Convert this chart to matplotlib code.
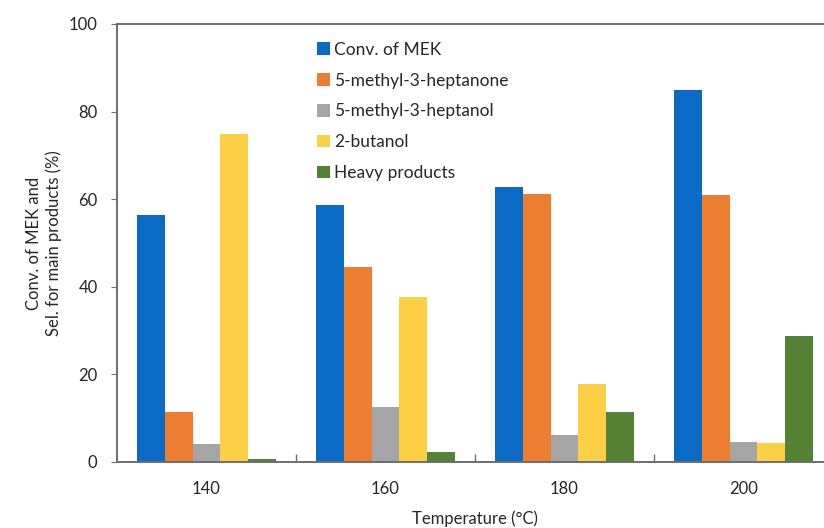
import numpy as np
import matplotlib
matplotlib.use('Agg')
import matplotlib.pyplot as plt
from matplotlib.ticker import FixedLocator, NullFormatter


TEMPS = ['140', '160', '180', '200']
SERIES = ['Conv. of MEK', '5-methyl-3-heptanone', '5-methyl-3-heptanol',
          '2-butanol', 'Heavy products']

conv_mek = [56.3, 58.7, 62.8, 85.0]
heptanone = [11.4, 44.6, 61.3, 61.0]
heptanol = [4.1, 12.6, 6.1, 4.5]
butanol = [75.0, 37.7, 17.8, 4.3]
heavy = [0.7, 2.3, 11.4, 28.7]

COLORS = ['#0A6BC7', '#ED7D31', '#A5A5A5', '#FDCF45', '#548235']
TEXT = '#262626'
AXIS = '#6E6E6E'

plt.rcParams['font.family'] = ['Lato', 'DejaVu Sans']

fig = plt.figure(figsize=(8.24, 5.28), dpi=100)
# axes runs slightly past the right edge, as in the cropped original
ax = fig.add_axes([117/824, 66/528, 716/824, 438/528])

x = np.arange(len(TEMPS))
width = 0.156
values = [conv_mek, heptanone, heptanol, butanol, heavy]
for i, (name, vals) in enumerate(zip(SERIES, values)):
    offset = (i - 2) * width
    ax.bar(x + offset, vals, width=width, color=COLORS[i], label=name,
           linewidth=0)

ax.set_xlim(-0.5, len(TEMPS) - 0.5)
ax.set_ylim(0, 100)
ax.set_yticks([0, 20, 40, 60, 80, 100])

ax.set_xticks(x)
ax.set_xticklabels(TEMPS)
ax.tick_params(axis='x', which='major', length=0, pad=14, labelsize=12,
               labelcolor=TEXT)
ax.xaxis.set_minor_locator(FixedLocator([0.5, 1.5, 2.5]))
ax.xaxis.set_minor_formatter(NullFormatter())
ax.tick_params(axis='x', which='minor', direction='in', length=6,
               color=AXIS, width=1)
ax.tick_params(axis='y', direction='out', length=4, color=AXIS,
               labelsize=12, labelcolor=TEXT, pad=10)

for side in ['left', 'bottom', 'top']:
    ax.spines[side].set_color(AXIS)
    ax.spines[side].set_linewidth(1.4)
ax.spines['right'].set_visible(False)

ax.set_xlabel('Temperature (°C)', fontsize=12, color=TEXT, labelpad=9)
ax.set_ylabel('Conv. of MEK and\nSel. for main products (%)', fontsize=12,
              color=TEXT, labelpad=5)

leg = ax.legend(loc='upper left', bbox_to_anchor=(0.27, 0.975), frameon=False,
                fontsize=12.5, handlelength=0.75, handleheight=0.75,
                handletextpad=0.2, labelspacing=0.85, borderaxespad=0)
for t in leg.get_texts():
    t.set_color(TEXT)

fig.savefig('out.png', dpi=100)
